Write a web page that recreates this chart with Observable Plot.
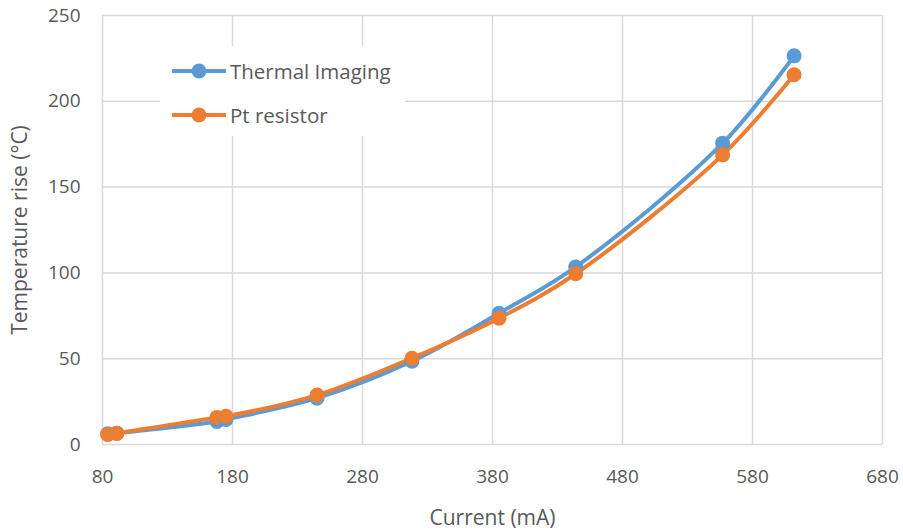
<!DOCTYPE html>
<html>
<head>
<meta charset="utf-8">
<script src="https://cdn.jsdelivr.net/npm/d3@7"></script>
<script src="https://cdn.jsdelivr.net/npm/@observablehq/plot@0.6"></script>
<style>
  html, body { margin: 0; padding: 0; background: #fff; }
  #wrap { position: relative; width: 903px; height: 529px; font-family: "Open Sans", sans-serif; }
  #legend { position: absolute; left: 160px; top: 46px; width: 245px; height: 90px; background: #fff;
            color: #595959; font-size: 20.5px; }
  .item { position: absolute; left: 12px; display: flex; align-items: center; }
  .item span { margin-left: 4px; }
</style>
</head>
<body>
<div id="wrap"><div id="legend"></div></div>
<script>
const currents = [84, 91, 168, 175, 245, 318, 385, 444, 557, 612];
const thermalImaging = [6.2, 6.6, 13.4, 14.6, 27, 48.5, 76.5, 103.5, 175.6, 226.5];
const ptResistor = [5.8, 6.5, 15.8, 16.5, 28.8, 50.3, 73.6, 99.5, 168.8, 215.5];
const seriesNames = ["Thermal Imaging", "Pt resistor"];
const seriesColors = ["#5B9BD5", "#ED7D31"];
const xTicks = [80, 180, 280, 380, 480, 580, 680];
const yTicks = [0, 50, 100, 150, 200, 250];

const data = [];
currents.forEach((c, i) => {
  data.push({current: c, temp: thermalImaging[i], series: seriesNames[0]});
  data.push({current: c, temp: ptResistor[i], series: seriesNames[1]});
});

const chart = Plot.plot({
  width: 903,
  height: 529,
  marginLeft: 102,
  marginRight: 21,
  marginTop: 15,
  marginBottom: 85,
  style: {fontFamily: "Open Sans, sans-serif", fontSize: "19px", color: "#595959", background: "#fff"},
  x: {domain: [80, 680], label: "Current (mA)"},
  y: {domain: [0, 250], label: "Temperature rise (°C)"},
  color: {domain: seriesNames, range: seriesColors},
  marks: [
    Plot.gridX(xTicks, {stroke: "#d9d9d9", strokeOpacity: 1, strokeWidth: 1.5}),
    Plot.gridY(yTicks, {stroke: "#d9d9d9", strokeOpacity: 1, strokeWidth: 1.5}),
    Plot.axisX({ticks: xTicks, tickSize: 0, tickPadding: 25, label: null, fontSize: 19}),
    Plot.axisY({ticks: yTicks, tickSize: 0, tickPadding: 22, label: null, fontSize: 19}),
    Plot.axisX({ticks: [], tickSize: 0, label: "Current (mA)", labelAnchor: "center", labelArrow: "none", labelOffset: 80, fontSize: 21}),
    Plot.axisY({ticks: [], tickSize: 0, label: "Temperature rise (°C)", labelAnchor: "center", labelArrow: "none", labelOffset: 90, fontSize: 21}),
    Plot.line(data, {x: "current", y: "temp", stroke: "series", z: "series", strokeWidth: 4, curve: "catmull-rom"}),
    Plot.dot(data, {x: "current", y: "temp", fill: "series", r: 7.5})
  ]
});
document.getElementById("wrap").prepend(chart);

const legend = document.getElementById("legend");
seriesNames.forEach((name, i) => {
  const item = document.createElement("div");
  item.className = "item";
  item.style.top = (i === 0 ? 11 : 55) + "px";
  item.innerHTML = `<svg width="54" height="20"><line x1="1" x2="53" y1="10" y2="10" stroke="${seriesColors[i]}" stroke-width="4" stroke-linecap="round"/><circle cx="27" cy="10" r="7.5" fill="${seriesColors[i]}"/></svg><span>${name}</span>`;
  legend.appendChild(item);
});
</script>
</body>
</html>
